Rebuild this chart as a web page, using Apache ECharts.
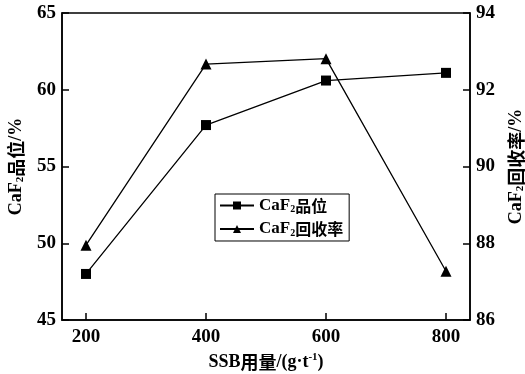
<!DOCTYPE html>
<html><head><meta charset="utf-8">
<script src="https://cdn.jsdelivr.net/npm/echarts@6/dist/echarts.min.js"></script>
<style>html,body{margin:0;padding:0;background:#fff}#c{width:525px;height:374px}</style>
</head><body><div id="c"></div>
<script>
var dosage = [200, 400, 600, 800];
var grade = [48.0, 57.7, 60.6, 61.1];
var recovery = [87.95, 92.67, 92.81, 87.27];
var xTicks = [200, 400, 600, 800];

var FF = "'Liberation Serif', 'Noto Serif CJK SC', 'Noto Sans CJK SC', serif";
var CJ = "'Noto Sans CJK SC', 'Liberation Serif', serif";
var rich = {
  a: {fontFamily: FF, fontWeight: 'bold', fontSize: 18, color: '#000'},
  c: {fontFamily: CJ, fontWeight: 'bold', fontSize: 18, color: '#000'},
  s: {fontFamily: FF, fontWeight: 'bold', fontSize: 11, color: '#000', padding: [9, 0, 0, 0]},
  p: {fontFamily: FF, fontWeight: 'bold', fontSize: 11, color: '#000', padding: [0, 0, 9, 0]},
  l: {fontFamily: FF, fontWeight: 'bold', fontSize: 17, color: '#000'},
  lc: {fontFamily: CJ, fontWeight: 'bold', fontSize: 16, color: '#000'},
  ls: {fontFamily: FF, fontWeight: 'bold', fontSize: 10, color: '#000', padding: [8, 0, 0, 0]}
};
var chart = echarts.init(document.getElementById('c'));
var axisCommon = {
  axisLine: {show: true, lineStyle: {color: '#000', width: 1.5}},
  axisTick: {show: true, inside: true, length: 7, lineStyle: {color: '#000', width: 1.5}},
  splitLine: {show: false},
  axisLabel: {color: '#000', fontFamily: FF, fontWeight: 'bold', fontSize: 19, margin: 6}
};
chart.setOption({
  animation: false,
  backgroundColor: '#fff',
  grid: {left: 62, right: 55, top: 13, bottom: 54, containLabel: false, outerBoundsMode: 'none',
    show: true, borderColor: '#000', borderWidth: 1.5},
  legend: {
    left: 215, top: 194, orient: 'vertical', itemGap: 6,
    borderColor: '#000', borderWidth: 1, padding: [3, 6, 3, 4],
    itemWidth: 34, itemHeight: 10,
    data: [{name: 'grade'}, {name: 'recovery'}],
    formatter: function (n) {
      return n === 'grade' ? '{l|CaF}{ls|2}{lc|品位}' : '{l|CaF}{ls|2}{lc|回收率}';
    },
    textStyle: {rich: rich}
  },
  xAxis: Object.assign({}, axisCommon, {
    type: 'value', min: 160, max: 840,
    axisLabel: Object.assign({}, axisCommon.axisLabel, {customValues: xTicks, margin: 8}),
    axisTick: Object.assign({}, axisCommon.axisTick, {customValues: xTicks}),
    name: '{a|SSB}{c|用量}{a|/(g·t}{p|-1}{a|)}',
    nameLocation: 'middle', nameGap: 28,
    nameTextStyle: {rich: rich}
  }),
  yAxis: [
    Object.assign({}, axisCommon, {
      type: 'value', min: 45, max: 65, interval: 5, position: 'left',
      name: '{a|CaF}{s|2}{c|品位}{a|/%}', nameLocation: 'middle', nameRotate: 90, nameGap: 27,
      nameTextStyle: {rich: rich}
    }),
    Object.assign({}, axisCommon, {
      type: 'value', min: 86, max: 94, interval: 2, position: 'right',
      name: '{a|CaF}{s|2}{c|回收率}{a|/%}', nameLocation: 'middle', nameRotate: 90, nameGap: 36,
      nameTextStyle: {rich: rich}
    })
  ],
  series: [
    {
      name: 'grade', type: 'line', yAxisIndex: 0,
      data: dosage.map(function (d, i) { return [d, grade[i]]; }),
      symbol: 'rect', symbolSize: 10,
      lineStyle: {color: '#000', width: 1.3},
      itemStyle: {color: '#000'}
    },
    {
      name: 'recovery', type: 'line', yAxisIndex: 1,
      data: dosage.map(function (d, i) { return [d, recovery[i]]; }),
      symbol: 'triangle', symbolSize: 11,
      lineStyle: {color: '#000', width: 1.3},
      itemStyle: {color: '#000'}
    }
  ]
});
</script></body></html>
